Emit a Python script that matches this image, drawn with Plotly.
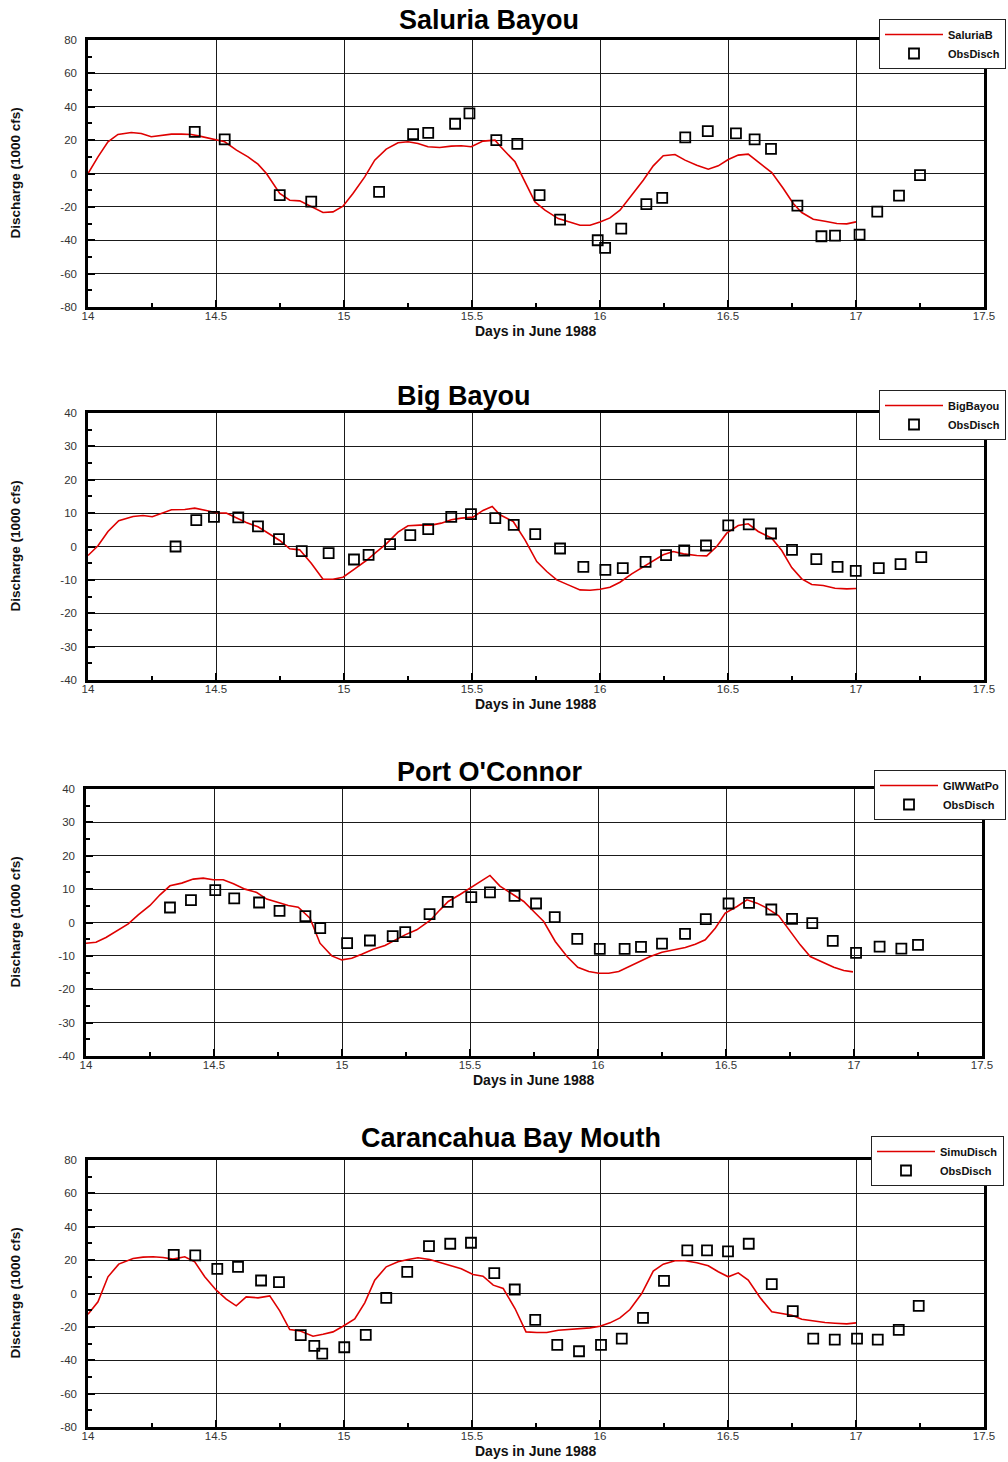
import plotly.graph_objects as go

W, H = 1008, 1462

# ---------------- data ----------------
titles = ["Saluria Bayou", "Big Bayou", "Port O'Connor", "Carancahua Bay Mouth"]
sim_names = ["SaluriaB", "BigBayou", "GIWWatPo", "SimuDisch"]
obs_name = "ObsDisch"
x_label = "Days in June 1988"
y_label = "Discharge (1000 cfs)"

x_ticks = [14, 14.5, 15, 15.5, 16, 16.5, 17, 17.5]
x_ticktext = ["14", "14.5", "15", "15.5", "16", "16.5", "17", "17.5"]
y_ticks_80 = [-80, -60, -40, -20, 0, 20, 40, 60, 80]
y_ticktext_80 = ["-80", "-60", "-40", "-20", "0", "20", "40", "60", "80"]
y_ticks_40 = [-40, -30, -20, -10, 0, 10, 20, 30, 40]
y_ticktext_40 = ["-40", "-30", "-20", "-10", "0", "10", "20", "30", "40"]

# Saluria Bayou
sal_sim_x = [14.0, 14.039, 14.078, 14.117, 14.169, 14.208, 14.247, 14.286, 14.326, 14.365, 14.404,
             14.436, 14.49, 14.534, 14.58, 14.625, 14.664, 14.697, 14.749, 14.788, 14.827, 14.872,
             14.918, 14.957, 14.996, 15.035, 15.081, 15.12, 15.165, 15.211, 15.25, 15.289, 15.328,
             15.374, 15.419, 15.458, 15.497, 15.543, 15.59, 15.612, 15.668, 15.707, 15.746, 15.785,
             15.837, 15.922, 15.961, 16.0, 16.039, 16.078, 16.124, 16.169, 16.208, 16.247, 16.293,
             16.332, 16.378, 16.423, 16.462, 16.501, 16.54, 16.579, 16.625, 16.671, 16.716, 16.755,
             16.788, 16.833, 16.879, 16.925, 16.964, 17.0]
sal_sim_y = [0.0, 10.0, 19.0, 23.4, 24.6, 24.0, 22.0, 22.8, 23.6, 23.6, 23.4,
             22.4, 20.4, 19.0, 14.0, 10.0, 5.6, 0.0, -12.0, -16.0, -16.4, -20.0,
             -23.4, -23.0, -19.6, -12.0, -2.0, 8.0, 14.6, 18.4, 19.0, 18.0, 16.0,
             15.6, 16.4, 16.6, 16.0, 19.4, 20.0, 16.0, 7.0, -5.0, -17.0, -22.0,
             -27.0, -31.0, -31.0, -29.0, -26.6, -22.0, -13.0, -4.0, 4.6, 10.6, 11.4,
             8.0, 5.0, 2.6, 4.6, 8.4, 11.0, 11.6, 6.0, 0.6, -9.0, -18.0,
             -23.4, -27.4, -28.6, -30.0, -30.2, -29.0]
sal_obs_x = [14.417, 14.534, 14.749, 14.872, 15.137, 15.27, 15.329, 15.434, 15.49, 15.595,
             15.677, 15.764, 15.844, 15.991, 16.02, 16.083, 16.181, 16.243, 16.333, 16.421,
             16.531, 16.604, 16.668, 16.771, 16.865, 16.918, 17.014, 17.083, 17.168, 17.25]
sal_obs_y = [25.0, 20.4, -13.0, -16.8, -11.0, 23.6, 24.4, 29.8, 36.0, 20.0,
             17.8, -13.0, -27.6, -40.0, -44.6, -33.0, -18.4, -14.6, 21.6, 25.4,
             24.0, 20.4, 14.8, -19.2, -37.6, -37.2, -36.6, -22.8, -13.2, -1.0]

# Big Bayou
big_sim_x = [14.0, 14.039, 14.078, 14.12, 14.176, 14.215, 14.251, 14.293, 14.326, 14.378, 14.417,
             14.462, 14.501, 14.54, 14.579, 14.618, 14.664, 14.703, 14.749, 14.788, 14.827, 14.872,
             14.918, 14.957, 14.996, 15.042, 15.087, 15.126, 15.165, 15.211, 15.25, 15.296, 15.341,
             15.38, 15.419, 15.458, 15.504, 15.543, 15.579, 15.609, 15.661, 15.707, 15.753, 15.792,
             15.831, 15.876, 15.922, 15.961, 16.0, 16.039, 16.078, 16.124, 16.169, 16.208, 16.247,
             16.286, 16.326, 16.378, 16.417, 16.456, 16.495, 16.54, 16.579, 16.618, 16.671, 16.71,
             16.749, 16.788, 16.827, 16.872, 16.918, 16.964, 17.0]
big_sim_y = [-2.7, 0.2, 4.5, 7.7, 9.0, 9.3, 8.9, 10.2, 11.0, 11.1, 11.5,
             10.8, 10.1, 10.0, 8.5, 7.2, 5.9, 4.0, 1.8, -0.7, -1.0, -5.0,
             -9.8, -9.8, -9.2, -6.7, -4.2, -1.7, 0.8, 4.3, 6.2, 6.4, 6.4,
             7.0, 8.0, 8.5, 8.8, 10.8, 12.0, 9.5, 7.5, 2.0, -4.5, -7.5,
             -10.0, -11.5, -13.0, -13.1, -12.8, -12.2, -10.7, -8.2, -6.2, -4.3, -2.5,
             -1.5, -2.2, -2.7, -2.8, 0.0, 4.0, 6.3, 6.8, 4.5, 2.5, -1.2,
             -6.3, -9.7, -11.4, -11.7, -12.5, -12.7, -12.6]
big_obs_x = [14.342, 14.423, 14.492, 14.587, 14.664, 14.746, 14.835, 14.94, 15.039, 15.096,
             15.18, 15.259, 15.329, 15.419, 15.496, 15.591, 15.663, 15.747, 15.844, 15.935,
             16.021, 16.089, 16.178, 16.258, 16.329, 16.414, 16.501, 16.581, 16.668, 16.75,
             16.845, 16.928, 16.999, 17.089, 17.174, 17.255]
big_obs_y = [0.0, 7.9, 8.9, 8.7, 6.0, 2.2, -1.4, -2.0, -3.9, -2.5,
             0.7, 3.4, 5.2, 8.9, 9.7, 8.5, 6.5, 3.7, -0.6, -6.1,
             -7.0, -6.5, -4.6, -2.6, -1.2, 0.3, 6.3, 6.6, 3.9, -1.0,
             -3.8, -6.1, -7.3, -6.5, -5.3, -3.2]

# Port O'Connor
poc_sim_x = [14.0, 14.039, 14.078, 14.12, 14.165, 14.204, 14.25, 14.289, 14.328, 14.374, 14.419,
             14.458, 14.497, 14.536, 14.576, 14.621, 14.667, 14.706, 14.751, 14.79, 14.829, 14.875,
             14.914, 14.96, 14.999, 15.038, 15.077, 15.122, 15.168, 15.207, 15.246, 15.292, 15.344,
             15.383, 15.415, 15.461, 15.5, 15.539, 15.578, 15.617, 15.658, 15.71, 15.749, 15.788,
             15.833, 15.879, 15.921, 15.964, 16.003, 16.042, 16.081, 16.12, 16.165, 16.204, 16.25,
             16.296, 16.341, 16.38, 16.419, 16.458, 16.497, 16.543, 16.582, 16.621, 16.66, 16.706,
             16.745, 16.79, 16.829, 16.875, 16.921, 16.96, 16.996]
poc_sim_y = [-6.2, -5.9, -4.5, -2.5, -0.4, 2.3, 5.1, 8.3, 11.0, 11.8, 13.0,
             13.3, 12.8, 12.8, 11.6, 10.0, 9.0, 7.0, 6.0, 5.1, 4.6, 1.3,
             -6.2, -10.0, -11.2, -10.7, -9.5, -8.0, -6.9, -5.2, -3.7, -2.2, 0.6,
             3.8, 6.3, 8.4, 10.3, 12.3, 14.1, 10.9, 8.8, 6.3, 3.3, 0.3,
             -5.7, -10.2, -13.4, -14.7, -15.2, -15.2, -14.7, -13.2, -11.7, -10.2, -8.9,
             -8.2, -7.5, -6.5, -5.2, -1.7, 2.8, 4.8, 6.8, 5.8, 4.3, 2.0,
             -2.2, -6.7, -10.2, -11.7, -13.4, -14.4, -14.8]
poc_obs_x = [14.328, 14.41, 14.505, 14.579, 14.676, 14.756, 14.857, 14.915, 15.02, 15.109,
             15.198, 15.247, 15.342, 15.413, 15.505, 15.578, 15.674, 15.758, 15.831, 15.919,
             16.007, 16.104, 16.168, 16.25, 16.34, 16.421, 16.51, 16.59, 16.677, 16.758,
             16.837, 16.917, 17.008, 17.1, 17.185, 17.25]
poc_obs_y = [4.5, 6.7, 9.7, 7.2, 6.0, 3.5, 1.9, -1.7, -6.2, -5.4,
             -4.1, -2.9, 2.5, 6.2, 7.6, 9.0, 8.0, 5.7, 1.6, -4.9,
             -7.9, -7.9, -7.3, -6.3, -3.4, 1.0, 5.7, 5.9, 3.9, 1.1,
             -0.2, -5.5, -9.1, -7.2, -7.8, -6.7]

# Carancahua Bay Mouth
car_sim_x = [14.0, 14.039, 14.078, 14.12, 14.176, 14.215, 14.254, 14.293, 14.332, 14.378, 14.417,
             14.456, 14.501, 14.54, 14.579, 14.618, 14.664, 14.71, 14.749, 14.788, 14.827, 14.879,
             14.918, 14.957, 14.996, 15.042, 15.081, 15.12, 15.165, 15.211, 15.25, 15.289, 15.335,
             15.38, 15.419, 15.458, 15.504, 15.543, 15.583, 15.622, 15.668, 15.711, 15.753, 15.792,
             15.837, 15.883, 15.922, 15.961, 16.0, 16.039, 16.078, 16.117, 16.163, 16.208, 16.247,
             16.293, 16.332, 16.378, 16.423, 16.462, 16.501, 16.54, 16.579, 16.625, 16.671, 16.71,
             16.749, 16.788, 16.833, 16.879, 16.918, 16.964, 17.0]
car_sim_y = [-12.4, -5.0, 10.0, 17.6, 21.0, 21.8, 22.0, 21.6, 20.6, 22.0, 19.0,
             10.0, 2.0, -3.4, -7.4, -2.0, -2.6, -1.4, -10.4, -21.6, -22.4, -25.6,
             -24.4, -23.0, -19.6, -15.2, -5.6, 8.0, 16.0, 19.0, 20.4, 21.4, 20.4,
             18.4, 16.6, 14.8, 11.4, 10.4, 5.0, 3.0, -9.0, -23.0, -23.4, -23.4,
             -22.0, -21.4, -20.8, -20.6, -19.6, -17.6, -14.6, -9.6, 0.0, 13.4, 17.6,
             19.6, 19.6, 18.4, 16.6, 13.0, 10.0, 12.4, 8.0, -2.4, -11.0, -12.0,
             -13.0, -15.4, -16.4, -17.4, -17.8, -18.2, -17.6]
car_obs_x = [14.335, 14.419, 14.505, 14.586, 14.676, 14.746, 14.831, 14.884, 14.915, 15.001,
             15.085, 15.165, 15.247, 15.332, 15.415, 15.496, 15.587, 15.667, 15.747, 15.833,
             15.918, 16.004, 16.085, 16.168, 16.25, 16.341, 16.418, 16.5, 16.581, 16.671,
             16.753, 16.833, 16.917, 17.004, 17.085, 17.167, 17.245]
car_obs_y = [23.2, 22.8, 14.8, 16.0, 7.8, 6.8, -25.0, -31.4, -36.0, -32.2,
             -24.8, -2.6, 13.0, 28.4, 29.8, 30.4, 12.2, 2.4, -15.8, -30.8,
             -34.6, -30.8, -27.0, -14.6, 7.6, 25.8, 25.8, 25.2, 29.8, 5.6,
             -10.6, -27.0, -27.6, -27.0, -27.6, -21.8, -7.4]

sim_x = [sal_sim_x, big_sim_x, poc_sim_x, car_sim_x]
sim_y = [sal_sim_y, big_sim_y, poc_sim_y, car_sim_y]
obs_x = [sal_obs_x, big_obs_x, poc_obs_x, car_obs_x]
obs_y = [sal_obs_y, big_obs_y, poc_obs_y, car_obs_y]

# ---------------- layout geometry (pixels) ----------------
boxes = [(88, 984, 40, 307), (88, 984, 413, 680), (86, 982, 789, 1056), (88, 984, 1160, 1427)]
yranges = [80, 40, 40, 80]
title_pos = [(489, 20), (464, 396), (489, 772), (511, 1138)]
legend_pos = [(1006, 19), (1006, 390), (1006, 770), (1004, 1136)]

FONT = "Arial, Liberation Sans, sans-serif"
RED = "rgb(222,0,0)"

fig = go.Figure()
layout = dict(width=W, height=H, margin=dict(l=0, r=0, t=0, b=0, autoexpand=False),
              paper_bgcolor="white", plot_bgcolor="white", showlegend=True,
              font=dict(family=FONT, color="#000"))
annotations = []

def fx(p):
    return p / W

def fy(p):
    return 1 - p / H

for i in range(4):
    n = "" if i == 0 else str(i + 1)
    x0, x1, y0, y1 = boxes[i]
    leg = "legend" + n
    fig.add_trace(go.Scatter(x=sim_x[i], y=sim_y[i], mode="lines", name=sim_names[i],
                             line=dict(color=RED, width=1.6), xaxis="x" + n, yaxis="y" + n,
                             legend=leg))
    fig.add_trace(go.Scatter(x=obs_x[i], y=obs_y[i], mode="markers", name=obs_name,
                             marker=dict(symbol="square-open", size=10, color="black",
                                         line=dict(width=1.8, color="black")),
                             xaxis="x" + n, yaxis="y" + n, legend=leg))
    yr = yranges[i]
    if yr == 80:
        tv, tt = y_ticks_80, y_ticktext_80
    else:
        tv, tt = y_ticks_40, y_ticktext_40
    axis_common = dict(showgrid=True, gridcolor="#1a1a1a", gridwidth=1.2,
                       showline=True, linecolor="black", linewidth=2.5, mirror=True,
                       zeroline=False, ticks="inside", ticklen=7, tickwidth=2, tickcolor="black",
                       automargin=False,
                       tickfont=dict(family=FONT, size=11.5, color="#333"))
    layout["xaxis" + n] = dict(axis_common, domain=[fx(x0), fx(x1)], anchor="y" + n,
                               range=[14, 17.5], tickmode="array", tickvals=x_ticks,
                               ticktext=x_ticktext, ticklabelstandoff=-4,
                               minor=dict(tick0=14, dtick=0.25, ticks="inside", ticklen=4,
                                          tickcolor="black", tickwidth=1.5, showgrid=False))
    layout["yaxis" + n] = dict(axis_common, domain=[fy(y1), fy(y0)], anchor="x" + n,
                               range=[-yr, yr], tickmode="array", tickvals=tv, ticktext=tt,
                               ticklabelstandoff=6,
                               minor=dict(tick0=0, dtick=yr / 8, ticks="inside", ticklen=4,
                                          tickcolor="black", tickwidth=1.5, showgrid=False))
    lx, ly = legend_pos[i]
    layout[leg] = dict(x=fx(lx), y=fy(ly), xanchor="right", yanchor="top",
                       bgcolor="white", bordercolor="#222", borderwidth=1,
                       font=dict(family=FONT, size=11, color="#111", weight="bold"),
                       itemwidth=58, tracegroupgap=0)
    tx, ty = title_pos[i]
    annotations.append(dict(text=titles[i], x=fx(tx), y=fy(ty), xref="paper", yref="paper",
                            xanchor="center", yanchor="middle", showarrow=False,
                            font=dict(family=FONT, size=27, color="#000", weight="bold")))
    annotations.append(dict(text=x_label, x=fx((x0 + x1) / 2), y=fy(y1 + 24), xref="paper",
                            yref="paper", xanchor="center", yanchor="middle", showarrow=False,
                            font=dict(family=FONT, size=14, color="#111", weight="bold")))
    annotations.append(dict(text=y_label, x=fx(15), y=fy((y0 + y1) / 2), xref="paper",
                            yref="paper", xanchor="center", yanchor="middle", showarrow=False,
                            textangle=-90,
                            font=dict(family=FONT, size=13.5, color="#111", weight="bold")))

layout["annotations"] = annotations
fig.update_layout(**layout)
fig.write_html("out.html")
